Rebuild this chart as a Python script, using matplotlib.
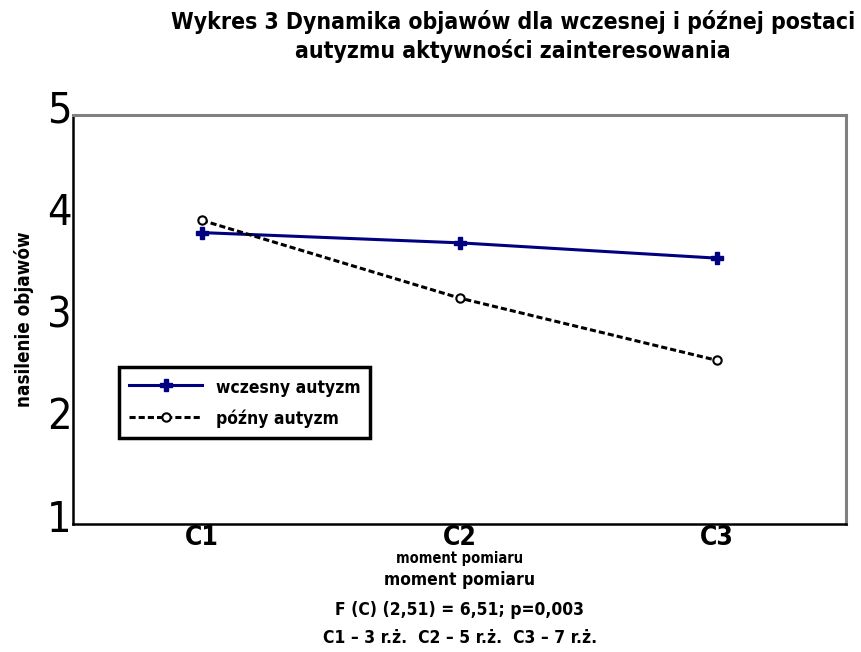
import matplotlib
matplotlib.use("Agg")
import matplotlib.pyplot as plt
from matplotlib import font_manager
from matplotlib.transforms import ScaledTranslation

# dane
pomiary = [1, 2, 3]
etykiety_x = ["C1", "C2", "C3"]
wczesny = [3.85, 3.75, 3.60]   # wczesny autyzm
pozny = [3.97, 3.21, 2.60]     # późny autyzm
etykiety_y = [1, 2, 3, 4, 5]

# wąska czcionka (jeśli jest zainstalowana)
waskie = [f for f in font_manager.fontManager.ttflist
          if "condensed" in str(f.stretch) or "Narrow" in f.name or "Condensed" in f.name]
if waskie:
    plt.rcParams["font.family"] = [waskie[0].name, "DejaVu Sans"]
    plt.rcParams["font.stretch"] = waskie[0].stretch
else:
    plt.rcParams["font.family"] = ["DejaVu Sans"]

fig = plt.figure(figsize=(8.61, 6.52), dpi=100)
ax = fig.add_axes([0.0848, 0.1963, 0.8978, 0.6273])

ax.plot(pomiary, wczesny, color="#000080", lw=2.2, marker="P", ms=8,
        mfc="#000080", mec="#000080", label="wczesny autyzm", zorder=3)
ax.plot(pomiary, pozny, color="black", lw=2.2, ls=(0, (2, 1)), marker="o", ms=6,
        mfc="white", mec="black", mew=1.5, label="późny autyzm", zorder=3)

ax.set_xlim(0.5, 3.5)
ax.set_ylim(1, 5)
ax.set_xticks(pomiary)
ax.set_xticklabels(etykiety_x, fontsize=19, fontweight="bold")
ax.set_yticks(etykiety_y)
ax.set_yticklabels([str(v) for v in etykiety_y], fontsize=31)
ax.tick_params(axis="both", length=0)
ax.tick_params(axis="x", pad=1)
ax.tick_params(axis="y", pad=1)
# cyfry na osi y są w oryginale lekko podniesione
for lab in ax.get_yticklabels():
    lab.set_transform(lab.get_transform() + ScaledTranslation(0, 0.09, fig.dpi_scale_trans))

for s in ["top", "right"]:
    ax.spines[s].set_color("#808080")
    ax.spines[s].set_linewidth(2.2)
for s in ["left", "bottom"]:
    ax.spines[s].set_color("black")
    ax.spines[s].set_linewidth(1.8)

ylab = ax.set_ylabel("nasilenie objawów", fontsize=17, fontweight="bold", labelpad=9)

leg = ax.legend(loc="upper left", bbox_to_anchor=(0.0595, 0.384), borderaxespad=0,
                fontsize=16, fancybox=False, framealpha=1, edgecolor="black",
                handlelength=3.3, handletextpad=0.6, borderpad=0.45, labelspacing=0.55)
leg.get_frame().set_linewidth(2.5)
for t in leg.get_texts():
    t.set_fontweight("bold")

tytul = fig.text(513 / 861, 0.985, "Wykres 3 Dynamika objawów dla wczesnej i późnej postaci\n"
                 "autyzmu aktywności zainteresowania", ha="center", va="top",
                 fontsize=20, fontweight="bold", linespacing=1.3)

podpis = fig.text(0.534, 0.143, "moment pomiaru", ha="center", va="center",
                  fontsize=10.5, fontweight="bold")
fig.text(0.534, 0.110, "moment pomiaru", ha="center", va="center", fontsize=12.5, fontweight="bold")
fig.text(0.534, 0.0644, "F (C) (2,51) = 6,51; p=0,003", ha="center", va="center",
         fontsize=12.5, fontweight="bold")
fig.text(0.534, 0.0215, "C1 – 3 r.ż.  C2 – 5 r.ż.  C3 – 7 r.ż.", ha="center", va="center",
         fontsize=12.5, fontweight="bold")


# dopasowanie rozmiaru tekstu do szerokości z oryginału
def dopasuj(t, szer, pion=False):
    r = fig.canvas.get_renderer()
    bb = t.get_window_extent(r)
    w = bb.height if pion else bb.width
    t.set_fontsize(t.get_fontsize() * szer / w)


dopasuj(tytul, 683)
dopasuj(ylab, 175, pion=True)
dopasuj(leg.get_texts()[0], 145)
leg.get_texts()[1].set_fontsize(leg.get_texts()[0].get_fontsize())

fig.savefig("out.png", dpi=100)
